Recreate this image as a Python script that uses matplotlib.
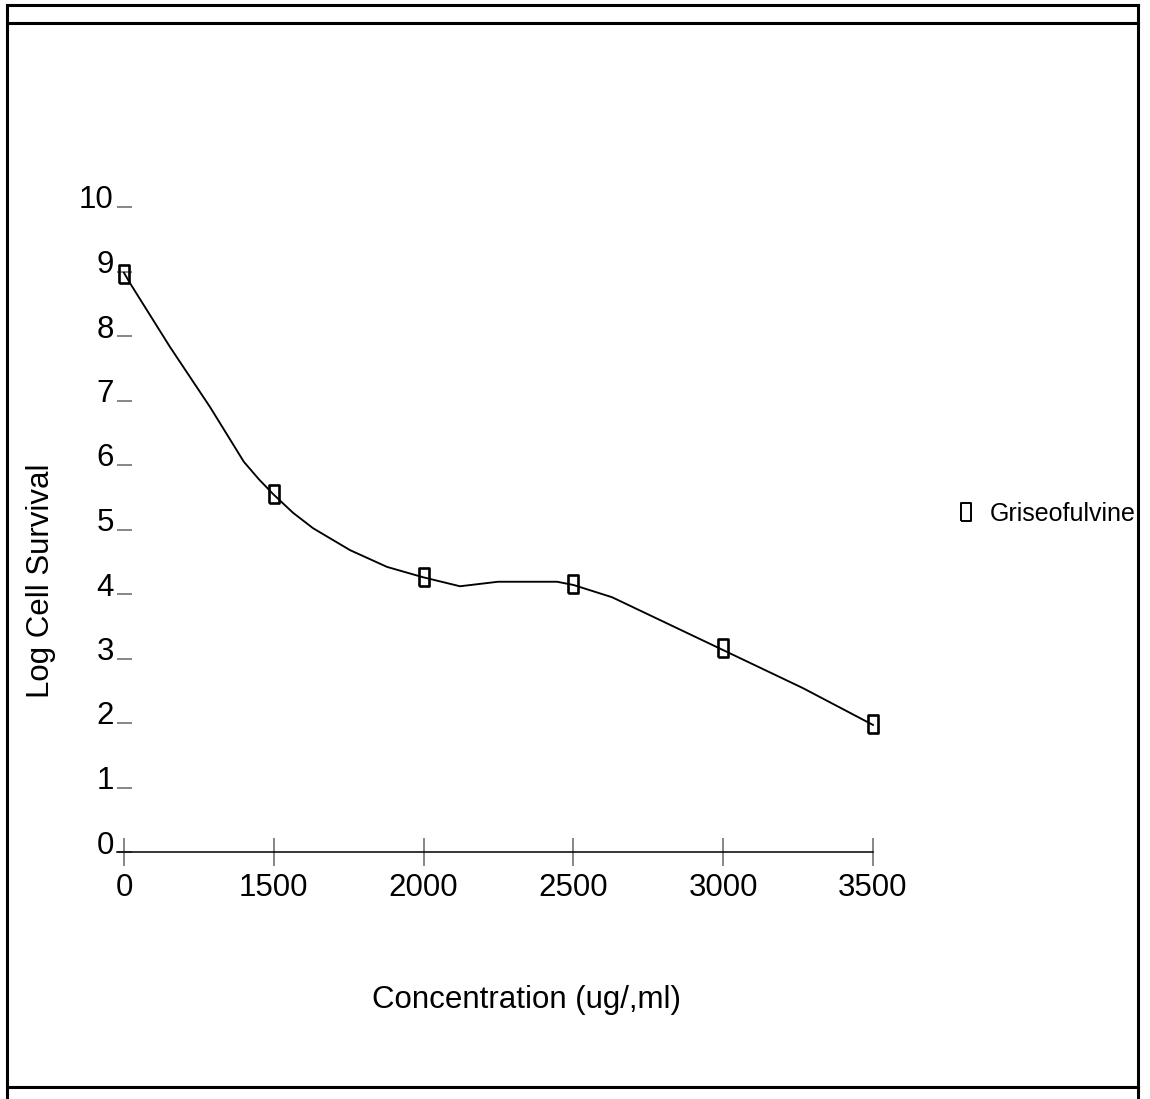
import matplotlib
matplotlib.use('Agg')
import matplotlib.pyplot as plt
from matplotlib.lines import Line2D
from matplotlib.transforms import ScaledTranslation

plt.rcParams['font.family'] = ['Liberation Sans', 'DejaVu Sans']

# ---------------- data ----------------
categories = ['0', '1500', '2000', '2500', '3000', '3500']
survival = [8.96, 5.55, 4.27, 4.16, 3.16, 1.98]
# smoothed connecting curve (category position, value)
curve_x = [0.0, 0.04, 0.307, 0.574, 0.80, 0.90, 0.995, 1.128, 1.262, 1.509, 1.756,
           1.996, 2.243, 2.497, 2.891, 3.0, 3.258, 4.0, 4.533, 5.0]
curve_y = [8.98, 8.82, 7.83, 6.90, 6.05, 5.78, 5.55, 5.26, 5.02, 4.68, 4.42,
           4.26, 4.12, 4.19, 4.19, 4.14, 3.95, 3.13, 2.54, 1.97]
y_ticks = list(range(0, 11))
series_name = 'Griseofulvine'
x_title = 'Concentration (ug/,ml)'
y_title = 'Log Cell Survival'

# ---------------- layout ----------------
W, H = 1150, 1099
fig = plt.figure(figsize=(W / 100, H / 100), dpi=100)

x0px, dxpx = 124, 149.8
y0px, dypx = 852, 64.5
xlim = (-0.5, 5.5)
ylim = (-0.5, 11)
left = x0px + xlim[0] * dxpx
right = x0px + xlim[1] * dxpx
bottom = y0px - ylim[0] * dypx
top = y0px - ylim[1] * dypx
ax = fig.add_axes([left / W, 1 - bottom / H, (right - left) / W, (bottom - top) / H])
ax.set_xlim(*xlim)
ax.set_ylim(*ylim)
ax.patch.set_alpha(0)

rect = [(-5, -9), (5, -9), (5, 9), (-5, 9), (-5, -9)]

xs = list(range(len(categories)))
ax.plot(curve_x, curve_y, color='black', lw=1.35, zorder=3)
ax.plot(xs, survival, linestyle='none', marker=rect, markersize=13.5,
        markerfacecolor='none', markeredgecolor='black', markeredgewidth=1.9, zorder=4)

for s in ['top', 'right']:
    ax.spines[s].set_visible(False)
ax.spines['left'].set_position(('data', 0))
ax.spines['left'].set_color('none')
ax.spines['bottom'].set_position(('data', 0))
ax.spines['bottom'].set_bounds(-0.05, 5)
ax.spines['bottom'].set_linewidth(1.1)
ax.spines['bottom'].set_color('black')

ax.set_xticks(xs, categories)
ax.set_yticks(y_ticks, [str(v) for v in y_ticks])
ax.tick_params(axis='x', direction='inout', length=20, width=1.1, color='#666666',
               pad=5, labelsize=22.5)
ax.tick_params(axis='y', direction='inout', length=10.8, width=1.1, color='#666666',
               pad=2, labelsize=22.5)
off = ScaledTranslation(0, 0.10, fig.dpi_scale_trans)
for lab in ax.get_yticklabels():
    lab.set_transform(lab.get_transform() + off)

fig.text(41 / W, 1 - 581 / H, y_title, rotation=90, ha='center', va='center', fontsize=22.5)
fig.text(527 / W, 1 - 1000 / H, x_title, ha='center', va='center', fontsize=22.5)

handle = Line2D([], [], linestyle='none', marker=rect, markersize=12.5,
                markerfacecolor='none', markeredgecolor='black', markeredgewidth=1.4)
ax.legend(handles=[handle], labels=[series_name], loc='center left',
          bbox_to_anchor=(953.5 / W, 1 - 514 / H), bbox_transform=fig.transFigure,
          frameon=False, fontsize=18, handlelength=1.0, handletextpad=0.45,
          borderpad=0, borderaxespad=0)

# ---------------- outer frame ----------------
def fline(xa, ya, lw=2.2):
    fig.add_artist(Line2D([x / W for x in xa], [1 - y / H for y in ya],
                          color='black', lw=lw, transform=fig.transFigure, zorder=10))

fline([7, 7], [5, H])
fline([1138, 1138], [5, H])
fline([7, 1138], [5, 5])
fline([7, 1138], [22.5, 22.5])
fline([7, 1138], [1087, 1087])

fig.savefig('out.png', dpi=100)
